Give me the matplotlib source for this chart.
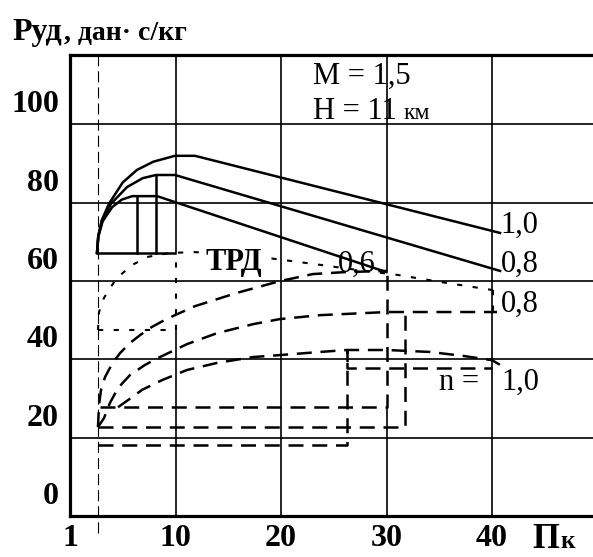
import matplotlib
matplotlib.use("Agg")
import matplotlib.pyplot as plt
from matplotlib.transforms import ScaledTranslation

plt.rcParams['font.family'] = ['Liberation Serif', 'DejaVu Serif']

# axis: position 0 is labelled "1" (pi_k), schematic scale
x_ticks = [0, 10, 20, 30, 40]
x_ticklabels = ['1', '10', '20', '30', '40']
y_ticks = [0, 20, 40, 60, 80, 100]
x_start = 2.65

# solid curves (labels 1,0 / 0,8 / 0,6)
s10_x = [2.56, 2.68, 3.0, 3.7, 5.0, 6.35, 7.9, 9.95, 11.85, 40.76]
s10_y = [67.2, 71.5, 75.5, 79.8, 85.2, 88.4, 90.5, 92.0, 92.0, 72.3]
s08_x = [2.56, 2.68, 3.05, 3.9, 5.4, 6.9, 8.15, 9.95, 40.76]
s08_y = [67.2, 71.5, 75.5, 79.8, 84.0, 86.3, 87.1, 87.1, 62.6]
s06_x = [2.56, 2.68, 3.1, 4.0, 4.9, 5.9, 8.25, 30.0]
s06_y = [67.2, 71.3, 75.3, 78.9, 80.8, 81.7, 81.7, 62.3]

# dotted curve (TRD)
trd_x = [2.65, 2.75, 3.22, 3.79, 4.45, 5.88, 7.39, 9.48, 11.85, 15.17, 18.77,
         23.03, 26.54, 30.99, 35.07, 40.09]
trd_y = [47.5, 52.1, 55.7, 58.2, 60.8, 64.1, 66.2, 67.2, 67.4, 66.9, 65.9,
         64.4, 63.1, 61.6, 59.8, 57.7]

# dashed curves
da_x = [2.65, 2.75, 2.94, 3.32, 3.98, 4.74, 5.69, 6.64, 7.77, 9.0, 9.95,
        11.85, 15.83, 19.9, 23.03, 26.07, 30.0]
da_y = [22.7, 28.4, 32.2, 35.5, 38.8, 41.6, 44.2, 46.2, 48.3, 50.1, 51.3,
        53.6, 57.0, 60.0, 61.8, 62.3, 62.6]
db_x = [2.65, 3.22, 3.79, 4.55, 5.69, 7.11, 8.53, 11.09, 13.93, 17.35, 19.9,
        23.7, 30.05, 40.47]
db_y = [22.7, 25.0, 28.9, 32.7, 36.0, 38.6, 40.6, 43.9, 46.7, 49.0, 50.3,
        51.3, 52.1, 52.1]
dc_x = [4.55, 5.5, 6.82, 8.72, 11.09, 13.93, 17.35, 19.9, 23.7, 26.26, 30.05,
        34.12, 37.25, 40.0, 40.76]
dc_y = [27.8, 29.6, 32.2, 34.7, 37.3, 39.1, 40.6, 41.1, 41.9, 42.4, 42.4,
        41.9, 40.9, 39.8, 38.6]

# limit lines
box_a_x = [2.85, 30.0, 30.0]
box_a_y = [27.8, 27.8, 62.6]
box_b_x = [2.65, 31.75, 31.75]
box_b_y = [22.7, 22.7, 52.1]
box_c_x = [2.65, 26.26, 26.26, 26.26, 40.0]
box_c_y = [18.1, 18.1, 42.4, 37.8, 37.8]

fig = plt.figure(figsize=(5.93, 5.57), dpi=100)
ax = fig.add_axes([70 / 593, 41 / 557, 523 / 593, 461 / 557])
ax.set_xlim(0, 49.57)
ax.set_ylim(0, 117.75)

for side in ['left', 'bottom', 'top']:
    ax.spines[side].set_linewidth(2.3)
ax.spines['right'].set_visible(False)

# grid (with gaps where the limit lines run)
glw = 1.2
ax.hlines([20, 40, 60, 80, 100], 0, 49.57, color='k', lw=glw)
ax.vlines(10, 0, 47.5, color='k', lw=glw)
ax.vlines(10, 67.2, 117.75, color='k', lw=glw)
ax.vlines(20, 0, 117.75, color='k', lw=glw)
ax.vlines(30, 0, 27.8, color='k', lw=glw)
ax.vlines(30, 62.6, 117.75, color='k', lw=glw)
ax.vlines(40, 0, 117.75, color='k', lw=glw)

# thin dashed vertical at start
ax.plot([x_start, x_start], [-4.4, 117.75], color='k', lw=0.8,
        ls=(0, (10, 4.5)), clip_on=False)

lw = 1.8
dash = (0, (6, 3.5))
dot = (0, (2.5, 5))

# solid family
ax.plot(s10_x, s10_y, color='k', lw=lw)
ax.plot(s08_x, s08_y, color='k', lw=lw)
ax.plot(s06_x, s06_y, color='k', lw=lw)
ax.plot([2.56, 9.95], [67.2, 67.2], color='k', lw=lw)
ax.plot([6.35, 6.35], [67.2, 81.7], color='k', lw=lw)
ax.plot([8.15, 8.15], [67.2, 87.1], color='k', lw=lw)

# dotted TRD
ax.plot(trd_x, trd_y, color='k', lw=1.5, ls=dot)
ax.plot([2.65, 10], [47.5, 47.5], color='k', lw=1.5, ls=dot)
ax.plot([10, 10], [47.5, 67.2], color='k', lw=1.5, ls=dot)
ax.plot([40.09, 40.09], [57.7, 52.1], color='k', lw=1.5, ls=dot)

# dashed family
ax.plot(da_x, da_y, color='k', lw=lw, ls=dash)
ax.plot(db_x, db_y, color='k', lw=lw, ls=dash)
ax.plot(dc_x, dc_y, color='k', lw=lw, ls=dash)
ax.plot(box_a_x, box_a_y, color='k', lw=lw, ls=dash)
ax.plot(box_b_x, box_b_y, color='k', lw=lw, ls=dash)
ax.plot(box_c_x, box_c_y, color='k', lw=lw, ls=dash)

# ticks
ax.set_xticks(x_ticks)
ax.set_xticklabels(x_ticklabels, fontsize=23, fontweight='bold')
ax.set_yticks(y_ticks)
ax.set_yticklabels([str(v) for v in y_ticks], fontsize=23, fontweight='bold')
ax.tick_params(length=0)
ax.tick_params(axis='x', pad=6)
ax.tick_params(axis='y', pad=8)
up = ScaledTranslation(0, 0.23, fig.dpi_scale_trans)
for lab in ax.get_yticklabels():
    lab.set_transform(lab.get_transform() + up)

ax.text(43.8, -8.2, 'П', fontsize=25, fontweight='bold', va='baseline', clip_on=False)
ax.text(46.5, -8.2, 'к', fontsize=18, fontweight='bold', va='baseline', clip_on=False)

fig.text(12 / 593, 1 - 40 / 557, 'Руд', fontsize=23, fontweight='bold', va='baseline')
fig.text(64 / 593, 1 - 40 / 557, ', дан· с/кг', fontsize=20, fontweight='bold', va='baseline')

ax.text(23.0, 110.3, 'М = 1,5', fontsize=22, va='baseline')
ax.text(23.0, 101.4, 'Н = 11', fontsize=22, va='baseline')
ax.text(31.6, 101.4, 'км', fontsize=17, va='baseline')

ax.text(15.5, 62.8, 'ТРД', fontsize=22, fontweight='bold', va='baseline', ha='center',
        bbox=dict(facecolor='white', edgecolor='none', pad=0))
ax.text(25.4, 62.3, '0,6', fontsize=22, va='baseline')
ax.text(40.8, 72.3, '1,0', fontsize=22, va='baseline')
ax.text(40.8, 62.3, '0,8', fontsize=22, va='baseline')
ax.text(40.8, 52.1, '0,8', fontsize=22, va='baseline')
ax.text(35.0, 32.2, 'n =', fontsize=22, va='baseline')
ax.text(40.9, 32.2, '1,0', fontsize=22, va='baseline')

fig.savefig('out.png', dpi=100)
